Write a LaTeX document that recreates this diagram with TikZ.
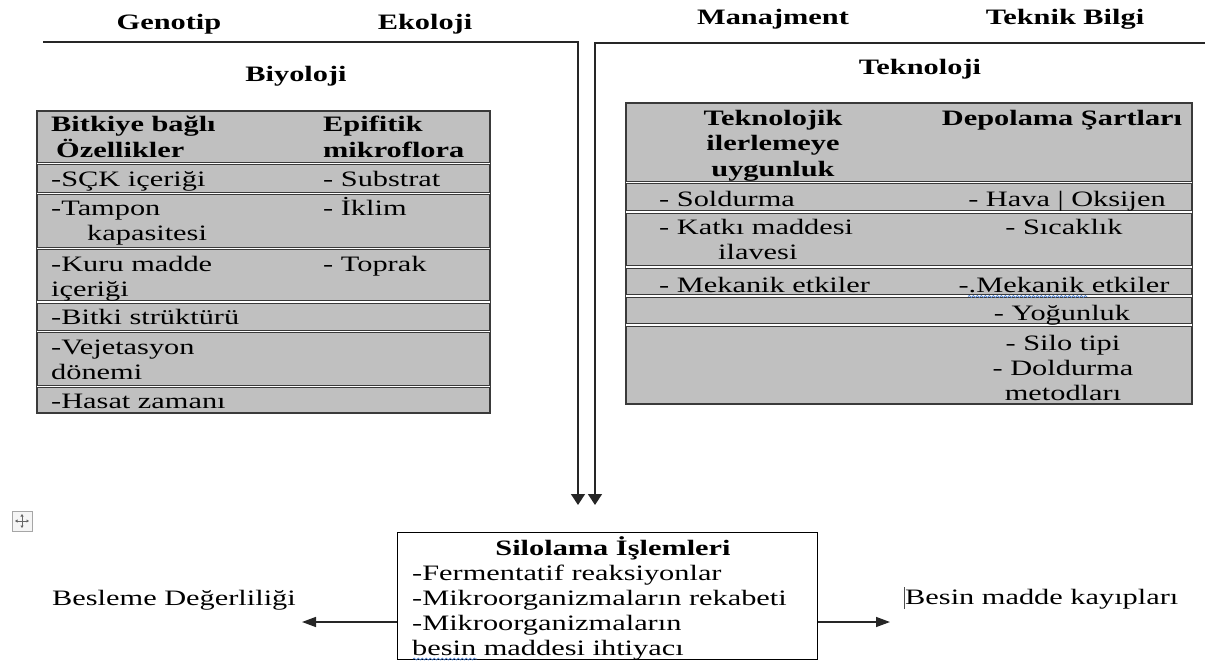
\documentclass[tikz,border=0pt]{standalone}
\usepackage{fontspec}
\setmainfont{Liberation Serif}[FakeStretch=1.38]
\usetikzlibrary{arrows.meta,decorations.pathmorphing}
\definecolor{tabgray}{HTML}{C0C0C0}
\definecolor{tabline}{HTML}{3A3A3A}
\definecolor{connc}{HTML}{262626}
\definecolor{spell}{HTML}{4A7FD0}
\tikzset{
  txt/.style={inner sep=0pt, anchor=base west, font=\fontsize{22}{25.5}\selectfont},
  txtc/.style={txt, anchor=base},
  btxt/.style={txt, font=\fontsize{22}{25.5}\selectfont\bfseries},
  btxtc/.style={btxt, anchor=base},
  tablebox/.style={fill=tabgray, draw=tabline, line width=1.4pt},
  rowsep/.style={draw=tabline, line width=1.2pt, double=white, double distance=1.2pt},
  conn/.style={draw=connc, line width=1.4pt},
  downarrow/.style={conn, -{Triangle[length=11pt,width=14pt]}},
  sidearrow/.style={conn, -{Triangle[length=14pt,width=10pt]}},
  wavy/.style={draw=spell, line width=0.7pt, decorate, decoration={snake, amplitude=1pt, segment length=4pt}},
}
\begin{document}
\begin{tikzpicture}[x=1pt,y=-1pt]
\useasboundingbox (0,0) rectangle (1205,663);

% ---------- top labels ----------
\node[btxtc] (genotip) at (169,29.5) {Genotip};
\node[btxtc] (ekoloji) at (425,29.5) {Ekoloji};
\node[btxtc] (manaj) at (773,24.5) {Manajment};
\node[btxtc] (teknik) at (1065,24.5) {Teknik Bilgi};
\node[btxtc] (biyo) at (296,81.5) {Biyoloji};
\node[btxtc] (tekno) at (920,74.5) {Teknoloji};

% ---------- left table ----------
\draw[tablebox] (37,111) rectangle (490,413);
\foreach \yy in {163.5,193.5,248.5,302,331.5,386.5}
  \draw[rowsep] (37,\yy) -- (490,\yy);
\node[btxt] (h1a) at (51,131.5) {Bitkiye bağlı};
\node[btxt] (h1b) at (56,157.5) {Özellikler};
\node[btxt] (h2a) at (323,131.5) {Epifitik};
\node[btxt] (h2b) at (323,157.5) {mikroflora};
\node[txt] (a1) at (51,186.5) {-SÇK içeriği};
\node[txt] (b1) at (323,186.5) {- Substrat};
\node[txt] (a2) at (51,216) {-Tampon};
\node[txt] (a2b) at (87,241) {kapasitesi};
\node[txt] (b2) at (323,216) {- İklim};
\node[txt] (a3) at (51,271) {-Kuru madde};
\node[txt] (a3b) at (51,296) {içeriği};
\node[txt] (b3) at (323,271) {- Toprak};
\node[txt] (a4) at (51,324.5) {-Bitki strüktürü};
\node[txt] (a5) at (51,354) {-Vejetasyon};
\node[txt] (a5b) at (51,379.5) {dönemi};
\node[txt] (a6) at (51,408) {-Hasat zamanı};

% ---------- right table ----------
\draw[tablebox] (626,103) rectangle (1192,404);
\foreach \yy in {182.5,212,267,296,325}
  \draw[rowsep] (626,\yy) -- (1192,\yy);
\node[btxtc] (t1a) at (773,126) {Teknolojik};
\node[btxtc] (t1b) at (773,151) {ilerlemeye};
\node[btxtc] (t1c) at (773,176.5) {uygunluk};
\node[btxtc] (t2a) at (1062,126) {Depolama Şartları};
\node[txt] (c1) at (659,207) {- Soldurma};
\node[txtc] (d1) at (1067,207) {- Hava | Oksijen};
\node[txt] (c2) at (659,235) {- Katkı maddesi};
\node[txt] (c2b) at (718,260) {ilavesi};
\node[txtc] (d2) at (1064,235) {- Sıcaklık};
\node[txt] (c3) at (659,292) {- Mekanik etkiler};
\node[txtc] (d3) at (1064,292) {-.Mekanik etkiler};
\node[txtc] (d4) at (1062,320) {- Yoğunluk};
\node[txtc] (d5) at (1063,350) {- Silo tipi};
\node[txtc] (d6) at (1063,375) {- Doldurma};
\node[txtc] (d7) at (1063,400) {metodları};
\draw[wavy] (968,296.5) -- (1087,296.5);

% ---------- connectors from top ----------
\coordinate (lstart) at (43,42);
\coordinate (lcorner) at (578,42);
\coordinate (rstart) at (1205,43);
\coordinate (rcorner) at (595,43);
\coordinate (ltip) at (578,505);
\coordinate (rtip) at (595,505);
\draw[downarrow] (lstart) -- (lcorner) -- (ltip);
\draw[downarrow] (rstart) -- (rcorner) -- (rtip);

% ---------- bottom box ----------
\node[draw=black, line width=1.2pt, fill=white, minimum width=420pt, minimum height=127pt,
      inner sep=0pt, anchor=north west] (silo) at (397,532) {};
\node[btxtc] (s0) at (613,555) {Silolama İşlemleri};
\node[txt] (s1) at (412,580) {-Fermentatif reaksiyonlar};
\node[txt] (s2) at (412,605) {-Mikroorganizmaların rekabeti};
\node[txt] (s3) at (412,630) {-Mikroorganizmaların};
\node[txt] (s4) at (412,655.5) {besin maddesi ihtiyacı};
\draw[wavy] (413,659) -- (477,659);

\node[txt] (besleme) at (52,605) {Besleme Değerliliği};
\node[txt] (kayip) at (905,604) {Besin madde kayıpları};
\draw[draw=black!70, line width=0.6pt] (904,587) -- (904,609);

\coordinate (ltipH) at (302,622);
\coordinate (rtipH) at (890,622);
\draw[sidearrow] (silo.west |- ltipH) -- (ltipH);
\draw[sidearrow] (silo.east |- rtipH) -- (rtipH);

% ---------- move handle ----------
\node[draw=black!35, fill=black!4, line width=0.8pt, minimum width=20pt, minimum height=20pt, inner sep=0pt] (handle) at (22,521) {};
\draw[black!60, line width=0.6pt, {Triangle[length=2.5pt,width=3pt]}-{Triangle[length=2.5pt,width=3pt]}] (handle.center) ++(-7,0) -- ++(14,0);
\draw[black!60, line width=0.6pt, {Triangle[length=2.5pt,width=3pt]}-{Triangle[length=2.5pt,width=3pt]}] (handle.center) ++(0,-7) -- ++(0,14);
\end{tikzpicture}
\end{document}
